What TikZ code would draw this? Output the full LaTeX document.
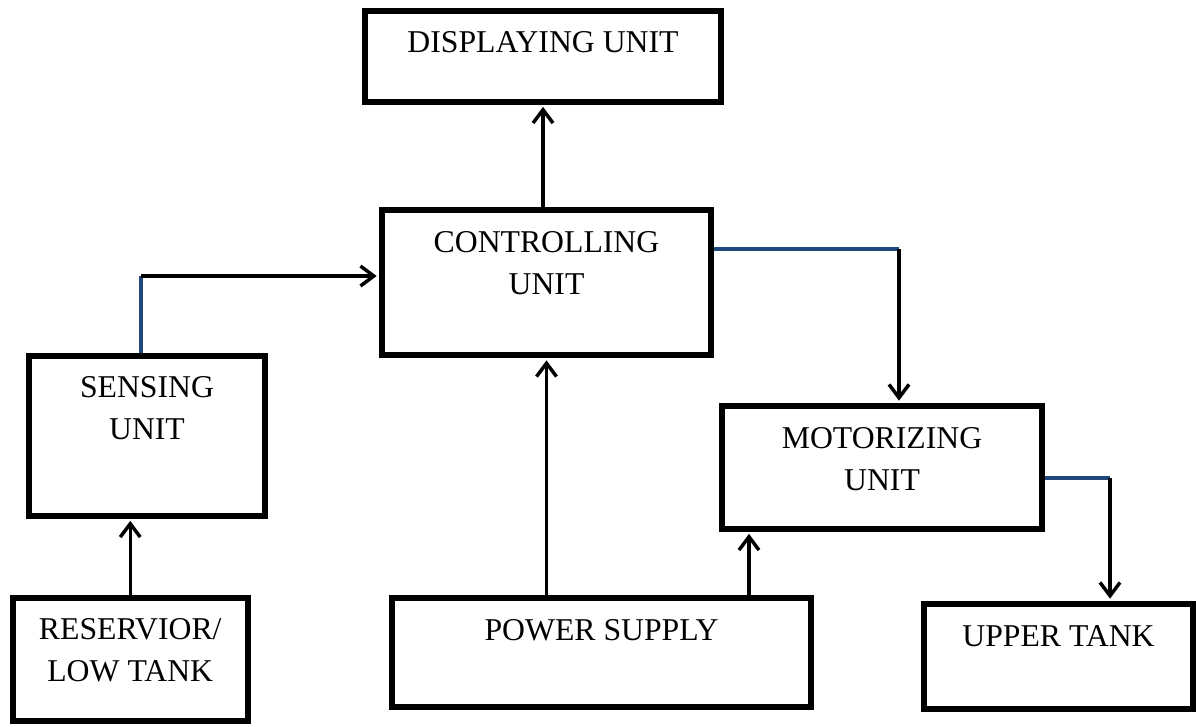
\documentclass[tikz,border=0pt]{standalone}
\usepackage{fontspec}
\setmainfont{Liberation Serif}
\usetikzlibrary{arrows.meta}
\definecolor{linkblue}{RGB}{31,73,125}
\newcommand{\unitfont}{\fontsize{23.8pt}{31.5pt}\selectfont}

\begin{document}
\begin{tikzpicture}[
        x=0.75pt, y=-0.75pt,
        unitbox/.style={rectangle, draw, line width=4.5pt, inner sep=0pt, outer sep=0pt},
        boxtext/.style={anchor=north, inner sep=0pt, align=center, font=\unitfont},
        arr/.style={line width=2.6pt, -{Straight Barb[length=10pt, width=15pt]}, shorten >=4pt},
        feed/.style={line width=2.6pt, linkblue, shorten <=2.25pt},
    ]
    \useasboundingbox (0,0) rectangle (1196,726);

    \node[unitbox, minimum width=267pt, minimum height=68.25pt] (disp) at (543,56) {};
    \node[unitbox, minimum width=246.75pt, minimum height=108.75pt] (ctrl) at (546.5,282.5) {};
    \node[unitbox, minimum width=177pt, minimum height=120pt] (sens) at (147,435.5) {};
    \node[unitbox, minimum width=240pt, minimum height=91.9pt] (motor) at (882,467.25) {};
    \node[unitbox, minimum width=176.6pt, minimum height=92.6pt] (res) at (130.25,659.25) {};
    \node[unitbox, minimum width=314.25pt, minimum height=81.4pt] (power) at (601.5,652.25) {};
    \node[unitbox, minimum width=201.75pt, minimum height=78.75pt] (upper) at (1058.5,656.5) {};

    % names, set near the top of each box
    \node[boxtext] (disp-t) at ([yshift=-15.75pt]disp.north) {DISPLAYING UNIT};
    \node[boxtext] (ctrl-t) at ([yshift=-15.75pt]ctrl.north) {CONTROLLING\\UNIT};
    \node[boxtext] (sens-t) at ([yshift=-15.75pt]sens.north) {SENSING\\UNIT};
    \node[boxtext] (motor-t) at ([yshift=-15.75pt]motor.north) {MOTORIZING\\UNIT};
    \node[boxtext] (res-t) at ([yshift=-15.75pt]res.north) {RESERVIOR/\\LOW TANK};
    \node[boxtext] (power-t) at ([yshift=-15.75pt]power.north) {POWER SUPPLY};
    \node[boxtext] (upper-t) at ([yshift=-15.75pt]upper.north) {UPPER TANK};

    % bends of the connectors
    \coordinate (s1) at (141,276);
    \coordinate (c1) at (899,249);
    \coordinate (u1) at (1110,478);
    \coordinate (m1) at ([xshift=20.25pt]motor.south west);

    \draw[arr] (ctrl.north -| disp.south) -- (disp.south);
    \draw[feed] (sens.north -| s1) -- (s1);
    \draw[arr] (s1) -- (s1 -| ctrl.west);
    \draw[feed] (ctrl.east |- c1) -- (c1);
    \draw[arr] (c1) -- (c1 |- motor.north);
    \draw[feed] (motor.east |- u1) -- (u1);
    \draw[arr] (u1) -- (u1 |- upper.north);
    \draw[arr] (ctrl.south |- power.north) -- (ctrl.south);
    \draw[arr] (m1 |- power.north) -- (m1);
    \draw[arr] (res.north) -- (res.north |- sens.south);
\end{tikzpicture}
\end{document}
